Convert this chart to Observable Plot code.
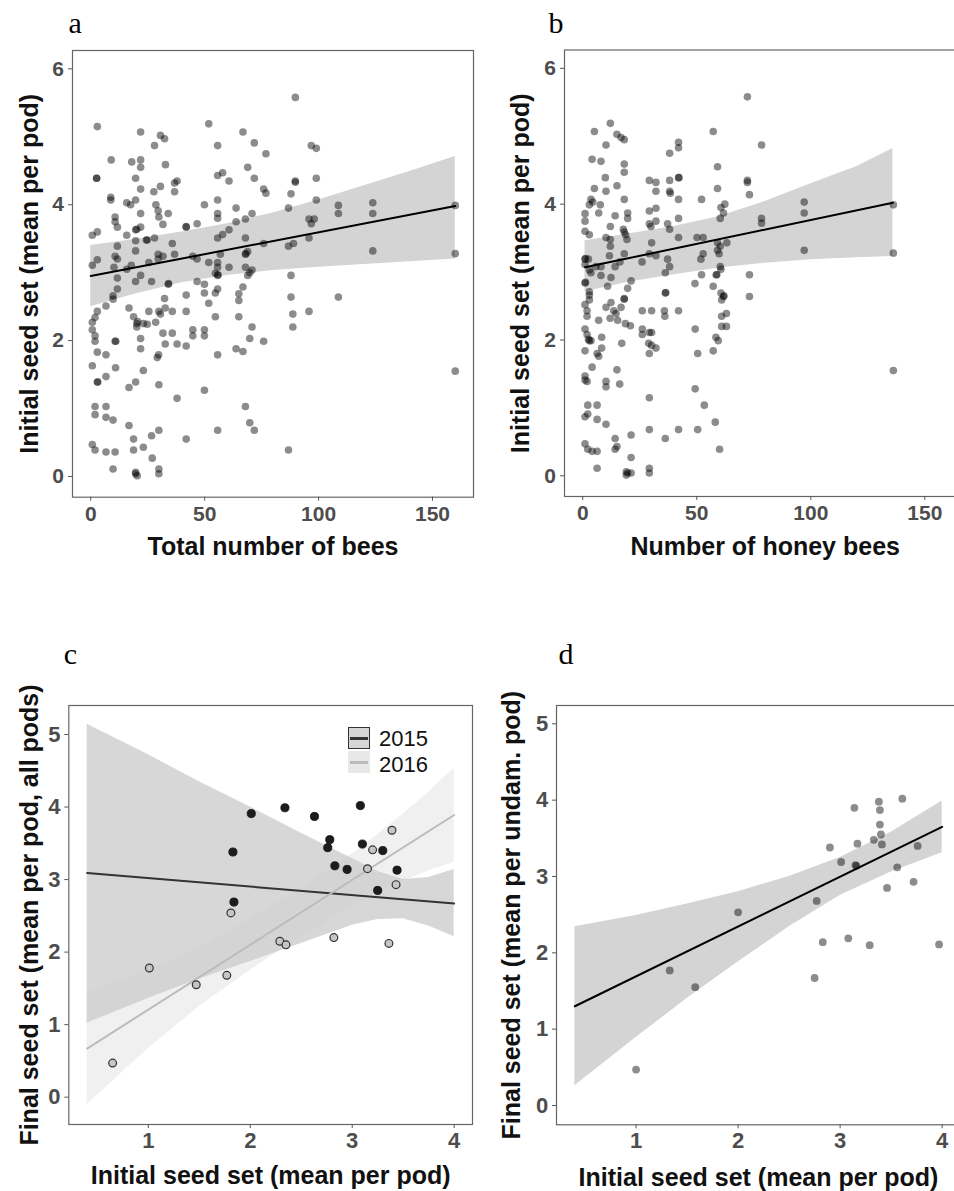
<!DOCTYPE html>
<html><head><meta charset="utf-8">
<script src="https://cdn.jsdelivr.net/npm/d3@7"></script>
<script src="https://cdn.jsdelivr.net/npm/@observablehq/plot@0.6"></script>
<style>
html,body{margin:0;padding:0;background:#fff;}
#fig{position:relative;width:954px;height:1191px;overflow:hidden;background:#fff;}
.pn{position:absolute;}
.pn svg{display:block;max-width:none;}
.lg{position:absolute;font-family:'Liberation Sans',Arial,sans-serif;font-size:22px;line-height:22px;height:22px;color:#111;}
</style></head><body><div id="fig"></div>
<script>
// ---------- Panel a: total number of bees vs initial seed set ----------
const beesTotal_seed = [
[89.8,5.58],[2.9,5.15],[51.8,5.19],[21.9,5.07],[66.8,5.07],[30.6,5.02],[32.4,4.97],[28.0,4.87],[55.7,4.87],[71.8,4.91],
[96.8,4.87],[99.0,4.83],[76.9,4.75],[9.0,4.66],[18.0,4.63],[21.9,4.66],[21.9,4.55],[32.8,4.59],[68.9,4.55],[2.6,4.39],
[2.6,4.39],[19.7,4.39],[21.9,4.23],[27.7,4.19],[30.6,4.27],[36.8,4.32],[37.9,4.35],[36.8,4.19],[55.7,4.43],[57.9,4.47],
[60.7,4.35],[71.8,4.39],[75.9,4.23],[76.9,4.17],[89.8,4.35],[89.8,4.33],[87.9,4.16],[99.0,4.39],[99.0,4.07],[8.8,4.11],
[8.8,4.07],[15.8,4.03],[17.5,4.00],[19.7,4.07],[21.9,3.87],[28.6,4.00],[29.6,3.91],[29.9,3.82],[34.0,3.87],[49.9,4.00],
[55.7,4.07],[55.7,3.87],[55.7,3.80],[63.8,3.95],[67.9,3.79],[70.8,3.87],[63.8,3.75],[108.7,3.99],[108.7,3.87],[123.8,4.03],
[123.8,3.87],[160,3.99],[86.8,3.95],[95.8,3.79],[98.1,3.79],[96.8,3.72],[10.7,3.82],[10.7,3.75],[11.7,3.67],[19.7,3.63],
[20.2,3.64],[21.9,3.67],[31.7,3.71],[15.8,3.55],[0.7,3.55],[2.9,3.60],[19.7,3.47],[24.4,3.48],[24.8,3.48],[28.0,3.51],
[41.9,3.67],[41.9,3.68],[46.7,3.72],[55.7,3.51],[57.9,3.56],[60.7,3.63],[67.9,3.51],[95.8,3.51],[86.8,3.39],[89.0,3.43],
[75.9,3.43],[11.7,3.39],[19.7,3.32],[35.8,3.43],[36.8,3.27],[29.6,3.27],[31.7,3.24],[29.6,3.20],[25.5,3.15],[10.7,3.24],
[11.7,3.20],[2.9,3.19],[0.7,3.11],[10.2,3.08],[17.8,3.11],[15.8,3.05],[21.9,2.96],[19.7,2.87],[11.7,2.92],[11.7,2.76],
[9.8,2.66],[26.7,2.87],[34.0,2.83],[34.2,2.84],[44.8,3.24],[46.7,3.20],[51.8,3.15],[55.7,3.15],[55.7,3.08],[56.9,3.27],
[54.7,2.99],[55.7,2.96],[55.9,2.97],[46.7,2.87],[49.9,2.83],[49.9,2.70],[55.7,2.76],[54.7,2.70],[41.9,2.67],[60.7,3.08],
[67.9,3.27],[68.1,3.28],[68.9,3.31],[67.9,3.08],[68.9,2.96],[69.8,3.00],[70.8,3.04],[66.8,2.79],[65.0,2.69],[87.9,2.96],
[87.9,2.64],[108.7,2.64],[123.8,3.32],[160,3.28],[32.4,2.62],[9.8,2.61],[6.7,2.51],[2.9,2.43],[1.9,2.34],[0.7,2.27],
[0.7,2.16],[1.9,2.07],[1.9,1.99],[2.9,1.83],[6.7,1.79],[10.7,1.99],[11.0,1.99],[0.7,1.63],[10.9,1.60],[6.7,1.47],
[2.9,1.39],[3.1,1.39],[1.9,1.03],[1.9,0.91],[6.7,1.03],[6.7,0.87],[9.8,0.83],[0.7,0.47],[1.9,0.39],[6.7,0.36],
[10.7,0.36],[9.8,0.11],[16.8,2.48],[18.8,2.35],[20.2,2.25],[20.2,2.20],[20.6,2.28],[23.1,2.25],[24.8,2.24],[21.9,2.03],
[21.9,1.88],[25.5,2.43],[29.9,2.43],[30.6,2.39],[28.5,2.27],[32.7,2.48],[35.8,2.43],[31.7,2.11],[32.7,1.95],[35.8,2.11],
[37.9,1.95],[41.9,1.92],[41.9,2.43],[44.8,2.16],[44.8,2.07],[49.9,2.16],[49.9,2.07],[51.8,2.55],[54.7,2.35],[55.7,1.79],
[29.8,1.79],[29.2,1.75],[23.1,1.56],[19.7,1.39],[16.8,1.31],[29.9,1.35],[37.9,1.15],[49.9,1.27],[16.8,0.75],[18.8,0.55],
[18.8,0.39],[23.1,0.43],[27.0,0.27],[26.7,0.60],[29.9,0.68],[29.9,0.11],[29.9,0.04],[19.7,0.04],[20.4,0.01],[19.7,0.06],
[41.9,0.55],[55.7,0.68],[65.0,2.59],[65.0,2.35],[70.8,2.20],[69.8,2.03],[75.9,1.99],[63.8,1.88],[66.8,1.84],[67.9,1.03],
[69.8,0.79],[71.8,0.68],[86.8,0.39],[88.7,2.39],[88.7,2.20],[95.8,2.43],[160,1.55]
];
const fitA_x  = [0, 20, 40, 60, 80, 100, 120, 140, 160];
const fitA_lo = [2.50, 2.69, 2.85, 2.96, 3.03, 3.08, 3.12, 3.16, 3.20];
const fitA_hi = [3.40, 3.49, 3.60, 3.72, 3.88, 4.07, 4.28, 4.49, 4.71];
const lineA_x = [0, 160];
const lineA_y = [2.95, 3.98];

// ---------- Panel b: number of honey bees vs initial seed set ----------
const beesHoney_seed = [
[72.2,5.58],[12.1,5.19],[5.1,5.07],[15.0,5.03],[16.8,4.98],[18.2,4.95],[10.2,4.87],[57.2,5.07],[42.0,4.91],[42.0,4.83],
[38.1,4.75],[78.4,4.87],[4.1,4.66],[8.0,4.63],[18.2,4.59],[18.2,4.47],[59.1,4.55],[9.9,4.39],[5.1,4.23],[10.2,4.19],
[15.0,4.27],[29.2,4.35],[32.1,4.32],[32.1,4.19],[38.1,4.35],[38.1,4.19],[38.4,4.16],[42.0,4.39],[42.2,4.39],[59.1,4.23],
[72.2,4.35],[72.2,4.32],[73.1,4.14],[3.6,4.07],[2.9,3.99],[4.4,4.03],[7.7,3.99],[7.0,3.87],[18.2,4.07],[1.0,3.86],
[1.0,3.75],[14.2,3.83],[19.7,3.87],[19.7,3.79],[29.2,3.90],[32.1,3.94],[42.0,4.07],[52.1,4.07],[60.6,3.95],[62.3,4.00],
[61.7,3.87],[60.3,3.79],[78.4,3.79],[78.4,3.72],[97.1,4.03],[97.1,3.87],[136.2,3.99],[1.0,3.60],[2.9,3.55],[12.1,3.67],
[10.2,3.51],[12.1,3.48],[12.1,3.38],[11.7,3.24],[17.8,3.63],[18.2,3.59],[18.8,3.55],[19.4,3.48],[29.2,3.71],[29.9,3.67],
[32.1,3.75],[37.2,3.71],[38.1,3.63],[30.2,3.43],[42.0,3.79],[42.0,3.51],[50.1,3.51],[52.8,3.51],[59.1,3.43],[60.3,3.38],
[63.2,3.43],[1.0,3.19],[1.2,3.20],[2.5,3.19],[1.0,3.11],[5.8,3.08],[8.0,3.08],[14.2,3.08],[16.3,3.15],[18.2,3.27],
[26.0,3.15],[29.2,3.27],[32.1,3.24],[37.2,3.19],[38.1,3.08],[36.2,2.99],[51.8,3.19],[52.8,3.27],[59.1,3.32],[59.8,3.27],
[60.3,3.08],[60.6,3.04],[97.1,3.32],[136.2,3.28],[2.9,3.03],[3.6,2.99],[8.0,2.95],[12.4,2.92],[10.9,2.79],[21.2,2.87],
[19.7,2.76],[1.0,2.84],[1.2,2.85],[2.9,2.71],[2.9,2.66],[18.2,2.61],[36.2,2.69],[36.4,2.70],[52.1,2.96],[49.2,2.83],
[57.2,2.79],[58.5,2.96],[58.8,2.96],[60.6,2.69],[61.7,2.64],[61.9,2.65],[73.1,2.96],[73.1,2.64],[2.9,2.59],[60.9,2.59],
[1.0,2.52],[1.9,2.43],[1.9,2.35],[10.2,2.48],[12.4,2.55],[12.0,2.32],[13.6,2.43],[14.6,2.39],[15.3,2.29],[16.8,2.48],
[18.2,2.60],[7.0,2.29],[1.0,2.16],[1.9,2.08],[2.5,2.01],[2.9,1.99],[3.6,1.99],[8.3,2.04],[1.0,1.84],[6.3,1.80],
[7.0,1.76],[8.3,1.88],[17.1,1.95],[18.7,2.24],[20.9,2.21],[26.1,2.43],[30.2,2.43],[26.1,2.16],[26.1,2.08],[29.2,2.11],
[30.2,2.11],[28.9,1.95],[30.2,1.92],[32.1,1.88],[29.2,1.80],[35.8,2.43],[36.0,2.35],[42.0,2.43],[49.3,2.16],[50.4,1.80],
[57.2,1.84],[58.4,2.04],[59.4,1.99],[60.9,2.35],[63.0,2.39],[60.9,2.20],[63.0,2.20],[1.0,1.47],[1.9,1.39],[1.0,1.41],
[4.1,1.60],[10.2,1.39],[10.2,1.31],[15.0,1.56],[16.2,1.35],[29.2,1.15],[49.3,1.28],[53.3,1.04],[2.2,1.04],[1.0,0.87],
[2.2,0.91],[6.3,1.04],[6.3,0.83],[10.2,0.76],[1.0,0.47],[2.2,0.39],[4.1,0.36],[6.3,0.36],[6.3,0.11],[14.2,0.55],
[14.2,0.39],[15.0,0.43],[21.2,0.60],[21.2,0.27],[19.1,0.06],[19.1,0.01],[21.2,0.04],[19.7,0.04],[29.2,0.68],[29.2,0.11],
[29.2,0.04],[36.2,0.55],[42.0,0.68],[50.4,0.68],[58.1,0.79],[60.0,0.39],[136.2,1.55]
];
const fitB_x  = [1, 20, 40, 60, 80, 100, 120, 136];
const fitB_lo = [2.71, 2.85, 2.96, 3.06, 3.13, 3.18, 3.21, 3.23];
const fitB_hi = [3.46, 3.56, 3.67, 3.82, 4.04, 4.30, 4.55, 4.82];
const lineB_x = [1, 136];
const lineB_y = [3.07, 4.02];

// ---------- Panel c: initial vs final seed set (all pods), by year ----------
const years = ["2015", "2016"];
const c2015 = [[2.01,3.91],[2.34,3.99],[2.63,3.87],[3.08,4.02],[1.83,3.38],[2.78,3.55],[2.76,3.44],[3.10,3.49],
               [3.30,3.40],[2.83,3.19],[2.95,3.14],[3.44,3.13],[3.25,2.85],[1.84,2.69]];
const c2016 = [[3.39,3.68],[3.20,3.41],[3.15,3.15],[3.43,2.93],[1.81,2.54],[2.29,2.15],[2.35,2.10],[2.82,2.20],
               [3.36,2.12],[1.01,1.78],[1.47,1.55],[1.77,1.68],[0.65,0.47]];
const fitC_x     = [0.4, 1.0, 1.5, 2.0, 2.5, 3.0, 3.25, 3.5, 3.75, 4.0];
const fitC15_lo  = [1.02, 1.36, 1.63, 1.87, 2.12, 2.37, 2.45, 2.46, 2.36, 2.21];
const fitC15_hi  = [5.14, 4.72, 4.35, 4.00, 3.64, 3.29, 3.11, 3.00, 3.03, 3.14];
const fitC16_lo  = [-0.10, 0.67, 1.25, 1.75, 2.22, 2.63, 2.83, 2.98, 3.12, 3.24];
const fitC16_hi  = [1.43, 1.75, 2.05, 2.45, 2.88, 3.35, 3.62, 3.90, 4.20, 4.54];
const lineC_x   = [0.4, 4.0];
const lineC15_y = [3.09, 2.67];
const lineC16_y = [0.67, 3.89];

// ---------- Panel d: initial vs final seed set (undamaged pods) ----------
const d_points = [[3.61,4.02],[3.38,3.98],[3.14,3.90],[3.39,3.87],[3.39,3.68],[3.40,3.55],[3.33,3.48],[3.17,3.43],
                  [3.41,3.42],[2.90,3.38],[3.76,3.40],[3.01,3.19],[3.15,3.15],[3.16,3.14],[3.56,3.12],[3.46,2.85],
                  [3.72,2.93],[2.77,2.68],[2.00,2.53],[2.83,2.14],[3.08,2.19],[3.29,2.10],[3.97,2.11],[1.33,1.77],
                  [1.58,1.55],[2.75,1.67],[1.00,0.47]];
const fitD_x  = [0.4, 1.0, 1.5, 2.0, 2.5, 3.0, 3.5, 4.0];
const fitD_lo = [0.26, 0.89, 1.40, 1.88, 2.34, 2.75, 3.06, 3.31];
const fitD_hi = [2.34, 2.49, 2.64, 2.80, 3.00, 3.25, 3.58, 3.99];
const lineD_x = [0.4, 4.0];
const lineD_y = [1.30, 3.65];

// ---------- axis text ----------
const ticksAB_x = [0, 50, 100, 150];
const ticksAB_y = [0, 2, 4, 6];
const ticksCD_x = [1, 2, 3, 4];
const ticksCD_y = [0, 1, 2, 3, 4, 5];

const FONT = "'Liberation Sans', Arial, Helvetica, sans-serif";
const SERIF = "'Liberation Serif', 'Times New Roman', serif";

const toBand = (xs, lo, hi) => xs.map((x, i) => ({x, lo: lo[i], hi: hi[i]}));
const toLine = (xs, ys) => xs.map((x, i) => ({x, y: ys[i]}));
const toPts = (arr) => arr.map(([x, y]) => ({x, y}));

function panel(cfg) {
  const fig = document.getElementById("fig");
  const div = document.createElement("div");
  div.className = "pn";
  div.style.left = cfg.left + "px";
  div.style.top = cfg.top + "px";
  div.style.width = cfg.width + "px";
  const p = Plot.plot({
    width: cfg.width, height: cfg.height,
    marginTop: cfg.mt, marginRight: cfg.mr, marginBottom: cfg.mb, marginLeft: cfg.ml,
    x: {domain: cfg.xDomain},
    y: {domain: cfg.yDomain},
    style: {fontFamily: FONT, background: "transparent", maxWidth: "none", overflow: "visible"},
    marks: [
      ...cfg.marks,
      Plot.frame({stroke: "#666", strokeWidth: 1.2}),
      Plot.axisX({ticks: cfg.xTicks, tickSize: 4, tickPadding: cfg.xPad, fontSize: cfg.tickFont, fontWeight: "bold",
                  fill: "#4d4d4d", stroke: "#555", label: null, tickFormat: d => String(d)}),
      Plot.axisY({ticks: cfg.yTicks, tickSize: 4, tickPadding: cfg.yPad, fontSize: cfg.tickFont, fontWeight: "bold",
                  fill: "#4d4d4d", stroke: "#555", label: null, tickFormat: d => String(d)}),
      Plot.text([cfg.xLabel], {text: d => d, frameAnchor: "bottom", textAnchor: "middle", lineAnchor: "bottom",
                  dy: cfg.xLabelDy, fontSize: 25, fontWeight: "bold", fill: "#111"}),
      Plot.text([cfg.yLabel], {text: d => d, frameAnchor: "left", textAnchor: "middle", lineAnchor: "bottom",
                  rotate: -90, dx: cfg.yLabelDx, fontSize: 25, fontWeight: "bold", fill: "#111"}),
      Plot.text([cfg.letter], {text: d => d, frameAnchor: "top-left", textAnchor: "start", lineAnchor: "bottom",
                  dx: cfg.letterDx, dy: cfg.letterDy, fontSize: 30, fontFamily: SERIF, fill: "#000"})
    ]
  });
  div.appendChild(p);
  fig.appendChild(div);
}

const dotA = {x: "x", y: "y", r: 3.8, fill: "#000", fillOpacity: 0.45, stroke: "none"};

panel({
  left: 0, top: 0, width: 477, height: 590, ml: 72, mt: 50, mr: 4, mb: 93.3,
  xDomain: [-8, 168], yDomain: [-0.305, 6.27], xTicks: ticksAB_x, yTicks: ticksAB_y,
  xPad: 5, yPad: 4.5, tickFont: 21,
  xLabel: "Total number of bees", yLabel: "Initial seed set (mean per pod)",
  xLabelDy: 57.3, yLabelDx: -35, letter: "a", letterDx: -4, letterDy: -18,
  marks: [
    Plot.areaY(toBand(fitA_x, fitA_lo, fitA_hi), {x: "x", y1: "lo", y2: "hi", fill: "#999", fillOpacity: 0.42}),
    Plot.line(toLine(lineA_x, lineA_y), {x: "x", y: "y", stroke: "#000", strokeWidth: 2}),
    Plot.dot(toPts(beesTotal_seed), dotA)
  ]
});

panel({
  left: 477, top: 0, width: 500, height: 590, ml: 87, mt: 49.5, mr: 11.6, mb: 94,
  xDomain: [-8, 168], yDomain: [-0.305, 6.27], xTicks: ticksAB_x, yTicks: ticksAB_y,
  xPad: 5, yPad: 4.5, tickFont: 21,
  xLabel: "Number of honey bees", yLabel: "Initial seed set (mean per pod)",
  xLabelDy: 58, yLabelDx: -35.3, letter: "b", letterDx: -16, letterDy: -17.5,
  marks: [
    Plot.areaY(toBand(fitB_x, fitB_lo, fitB_hi), {x: "x", y1: "lo", y2: "hi", fill: "#999", fillOpacity: 0.42}),
    Plot.line(toLine(lineB_x, lineB_y), {x: "x", y: "y", stroke: "#000", strokeWidth: 2}),
    Plot.dot(toPts(beesHoney_seed), dotA)
  ]
});

panel({
  left: 0, top: 600, width: 477, height: 591, ml: 68.3, mt: 105, mr: 5, mb: 67,
  xDomain: [0.22, 4.18], yDomain: [-0.377, 5.40], xTicks: ticksCD_x, yTicks: ticksCD_y,
  xPad: 3.5, yPad: 4.3, tickFont: 22,
  xLabel: "Initial seed set (mean per pod)", yLabel: "Final seed set (mean per pod, all pods)",
  xLabelDy: 59, yLabelDx: -31.3, letter: "c", letterDx: -5, letterDy: -42,
  marks: [
    Plot.areaY(toBand(fitC_x, fitC15_lo, fitC15_hi), {x: "x", y1: "lo", y2: "hi", fill: "#8c8c8c", fillOpacity: 0.35}),
    Plot.areaY(toBand(fitC_x, fitC16_lo, fitC16_hi), {x: "x", y1: "lo", y2: "hi", fill: "#cccccc", fillOpacity: 0.3}),
    Plot.line(toLine(lineC_x, lineC15_y), {x: "x", y: "y", stroke: "#333", strokeWidth: 2}),
    Plot.line(toLine(lineC_x, lineC16_y), {x: "x", y: "y", stroke: "#bbb", strokeWidth: 2}),
    Plot.dot(toPts(c2016), {x: "x", y: "y", r: 3.9, fill: "#c6c6c6", stroke: "#333", strokeWidth: 1.2}),
    Plot.dot(toPts(c2015), {x: "x", y: "y", r: 4.1, fill: "#1c1c1c", stroke: "#111", strokeWidth: 0.8})
  ]
});

panel({
  left: 477, top: 600, width: 500, height: 591, ml: 79, mt: 105, mr: 17, mb: 66.7,
  xDomain: [0.22, 4.18], yDomain: [-0.253, 5.24], xTicks: ticksCD_x, yTicks: ticksCD_y,
  xPad: 3.5, yPad: 4.3, tickFont: 22,
  xLabel: "Initial seed set (mean per pod)", yLabel: "Final seed set (mean per undam. pod)",
  xLabelDy: 60.7, yLabelDx: -37, letter: "d", letterDx: 2, letterDy: -42,
  marks: [
    Plot.areaY(toBand(fitD_x, fitD_lo, fitD_hi), {x: "x", y1: "lo", y2: "hi", fill: "#999", fillOpacity: 0.42}),
    Plot.line(toLine(lineD_x, lineD_y), {x: "x", y: "y", stroke: "#000", strokeWidth: 2}),
    Plot.dot(toPts(d_points), {x: "x", y: "y", r: 3.9, fill: "#000", fillOpacity: 0.45, stroke: "none"})
  ]
});

// ---------- legend of panel c ----------
(function legend() {
  const fig = document.getElementById("fig");
  const keys = [
    {label: years[0], top: 727, textTop: 727.5, fill: "#d6d6d6", border: "1.5px solid #333", line: "#333"},
    {label: years[1], top: 751, textTop: 753.5, fill: "#e8e8e8", border: "1.5px solid transparent", line: "#bbb"}
  ];
  keys.forEach(k => {
    const box = document.createElement("div");
    box.style.cssText = `position:absolute;left:348px;top:${k.top}px;width:20px;height:20px;background:${k.fill};border:${k.border};`;
    const ln = document.createElement("div");
    ln.style.cssText = `position:absolute;left:1px;right:1px;top:9px;height:2.5px;background:${k.line};`;
    box.appendChild(ln);
    fig.appendChild(box);
    const t = document.createElement("div");
    t.className = "lg";
    t.style.left = "379px";
    t.style.top = k.textTop + "px";
    t.textContent = k.label;
    fig.appendChild(t);
  });
})();
</script>
</body></html>
